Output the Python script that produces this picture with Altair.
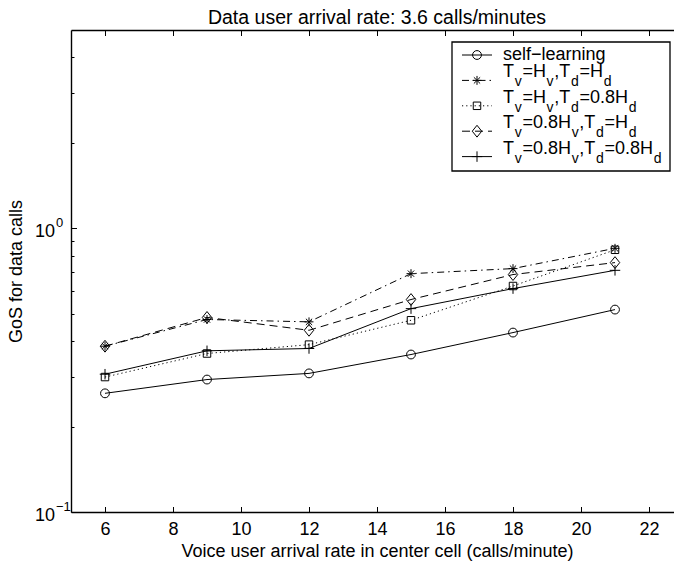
import altair as alt
import pandas as pd

# ---------------------------------------------------------------- data
# Voice user arrival rate in the center cell (calls/minute)
voice_rate = [6, 9, 12, 15, 18, 21]

# Grade of service for data calls under each threshold policy
gos_self_learning = [0.262, 0.293, 0.308, 0.359, 0.429, 0.517]
gos_hv_hd = [0.384, 0.477, 0.468, 0.692, 0.721, 0.850]
gos_hv_08hd = [0.299, 0.362, 0.389, 0.474, 0.626, 0.840]
gos_08hv_hd = [0.384, 0.485, 0.437, 0.561, 0.687, 0.757]
gos_08hv_08hd = [0.306, 0.370, 0.377, 0.521, 0.613, 0.711]

series_keys = ["self", "hv_hd", "hv_08hd", "08hv_hd", "08hv_08hd"]
series_values = [gos_self_learning, gos_hv_hd, gos_hv_08hd, gos_08hv_hd, gos_08hv_08hd]
# "_x" marks a one-character subscript
legend_labels = [
    "self\u2212learning",
    "T_v=H_v,T_d=H_d",
    "T_v=H_v,T_d=0.8H_d",
    "T_v=0.8H_v,T_d=H_d",
    "T_v=0.8H_v,T_d=0.8H_d",
]

x_ticks = [6, 8, 10, 12, 14, 16, 18, 20, 22]
y_major = [0.1, 1.0]
y_minor = [0.2, 0.3, 0.4, 0.5, 0.6, 0.7, 0.8, 0.9, 2, 3, 4]
y_tick_base = ["10", "10"]
y_tick_exp = ["\u22121", "0"]

title_text = "Data user arrival rate: 3.6 calls/minutes"
x_title = "Voice user arrival rate in center cell (calls/minute)"
y_title = "GoS for data calls"

# ---------------------------------------------------------------- layout
FONT = "Liberation Sans"
W, H = 603, 482
PAD = {"left": 71, "top": 30, "right": 0, "bottom": 51}
X_MIN, X_MAX = 5, 5 + W / 34.0

styles = {
    "self": dict(dash=None, shape="circle", size=78),
    "hv_hd": dict(dash=[7, 4, 1.5, 4],
                  shape="M0,-1L0,1M-1,0L1,0M-0.7,-0.7L0.7,0.7M-0.7,0.7L0.7,-0.7",
                  size=80),
    "hv_08hd": dict(dash=[1.2, 3], shape="square", size=56),
    "08hv_hd": dict(dash=[8, 5], shape="M0,-1L0.8,0L0,1L-0.8,0Z", size=140),
    "08hv_08hd": dict(dash=None, shape="M0,-1L0,1M-1,0L1,0", size=110),
}

# legend geometry (chart coordinates)
LEG_BOX = (381, 599, 12, 141)
LEG_LINE = (391, 421)
LEG_MARK_X = 406
LEG_TEXT_X = 432
LEG_ROW0, LEG_ROW_STEP = 25.0, 25.4
MAIN_SIZE, SUB_SIZE = 18, 14
RUN_GAP = 0.7

# Arial / Liberation Sans advance widths (1/1000 em)
ADV = {"T": 611, "v": 500, "=": 584, "H": 722, ",": 278, "d": 556,
       "0": 556, ".": 278, "8": 556}

rows = []
for key, vals in zip(series_keys, series_values):
    for xv, yv in zip(voice_rate, vals):
        rows.append({"series": key, "rate": xv, "gos": yv})
data = pd.DataFrame(rows)

x_scale = alt.Scale(domain=[X_MIN, X_MAX], nice=False, zero=False)
y_scale = alt.Scale(type="log", domain=[0.1, 5], nice=False)


def enc(xaxis=None, yaxis=None):
    return dict(
        x=alt.X("rate:Q", scale=x_scale, axis=xaxis),
        y=alt.Y("gos:Q", scale=y_scale, axis=yaxis),
    )


base_axis = dict(grid=False, domainColor="black", tickColor="black",
                 labelColor="black", titleColor="black", labelFont=FONT,
                 titleFont=FONT, labelFontSize=18, titleFontSize=18,
                 titleFontWeight="normal", domainWidth=1.4, tickWidth=1)

layers = []

# axes: labelled bottom/left axes plus tick-only axes pointing into the plot
ghost = alt.Chart(data).mark_point(opacity=0)
layers.append(ghost.encode(**enc(xaxis=alt.Axis(
    orient="bottom", values=x_ticks, ticks=False, tickSize=0, labelPadding=8,
    domain=True, title=x_title, titleX=W / 2 + 4.5, titleY=44,
    titleBaseline="alphabetic", titleAlign="center", **base_axis))))
layers.append(ghost.encode(**enc(xaxis=alt.Axis(
    orient="top", offset=-H, values=x_ticks, labels=False, domain=False,
    tickSize=5.5, title=None, **base_axis))))
layers.append(ghost.encode(**enc(xaxis=alt.Axis(
    orient="bottom", offset=-H, values=x_ticks, labels=False, domain=True,
    tickSize=5.5, title=None, **base_axis))))
layers.append(ghost.encode(**enc(yaxis=alt.Axis(
    orient="left", labels=False, ticks=False, tickSize=0, domain=True,
    title=y_title, titleX=-50, titleY=H / 2, titleAngle=270,
    titleBaseline="alphabetic", titleAlign="center", **base_axis))))
layers.append(ghost.encode(**enc(yaxis=alt.Axis(
    orient="right", offset=-W, values=y_major, labels=False, domain=False,
    tickSize=5.5, title=None, **base_axis))))
layers.append(ghost.encode(**enc(yaxis=alt.Axis(
    orient="right", offset=-W, values=y_minor, labels=False, domain=False,
    tickSize=3, title=None, **base_axis))))

# y tick labels as 10 with a raised exponent
ytick = pd.DataFrame({"v": y_major, "base": y_tick_base, "exp": y_tick_exp})
layers.append(alt.Chart(ytick).mark_text(
    align="right", baseline="alphabetic", font=FONT, fontSize=18,
    color="black", dy=8.5).encode(
    y=alt.Y("v:Q", scale=y_scale, axis=None), x=alt.value(-16), text="base:N"))
layers.append(alt.Chart(ytick).mark_text(
    align="left", baseline="alphabetic", font=FONT, fontSize=13,
    color="black", dy=-1).encode(
    y=alt.Y("v:Q", scale=y_scale, axis=None), x=alt.value(-15), text="exp:N"))

# series lines and markers
for key in series_keys:
    st = styles[key]
    line_kw = dict(color="black", strokeWidth=1)
    if st["dash"]:
        line_kw["strokeDash"] = st["dash"]
    sub = alt.Chart(data).transform_filter(alt.datum.series == key)
    layers.append(sub.mark_line(**line_kw).encode(**enc()))
    layers.append(sub.mark_point(shape=st["shape"], size=st["size"],
                                 filled=False, color="black", strokeWidth=1,
                                 opacity=1).encode(**enc()))

# legend box
layers.append(alt.Chart(pd.DataFrame({"box": [0]})).mark_rect(
    fill="white", stroke="black", strokeWidth=1.3).encode(
    x=alt.value(LEG_BOX[0]), x2=alt.value(LEG_BOX[1]),
    y=alt.value(LEG_BOX[2]), y2=alt.value(LEG_BOX[3])))

# legend samples
for i, key in enumerate(series_keys):
    st = styles[key]
    row = pd.DataFrame({"ypix": [LEG_ROW0 + i * LEG_ROW_STEP]})
    line_kw = dict(color="black", strokeWidth=1)
    if st["dash"]:
        line_kw["strokeDash"] = st["dash"]
    layers.append(alt.Chart(row).mark_rule(**line_kw).encode(
        x=alt.value(LEG_LINE[0]), x2=alt.value(LEG_LINE[1]),
        y=alt.Y("ypix:Q", scale=None)))
    layers.append(alt.Chart(row).mark_point(
        shape=st["shape"], size=st["size"], filled=False, color="black",
        strokeWidth=1, opacity=1).encode(
        x=alt.value(LEG_MARK_X), y=alt.Y("ypix:Q", scale=None)))

# legend labels, split into normal and subscript runs
text_rows = []
for i, label in enumerate(legend_labels):
    yc = LEG_ROW0 + i * LEG_ROW_STEP
    if "_" not in label:
        text_rows.append({"t": label, "px": LEG_TEXT_X, "py": yc + 5,
                          "fs": MAIN_SIZE})
        continue
    runs = []
    j = 0
    while j < len(label):
        if label[j] == "_":
            runs.append((label[j + 1], True))
            j += 2
        else:
            if runs and not runs[-1][1]:
                runs[-1] = (runs[-1][0] + label[j], False)
            else:
                runs.append((label[j], False))
            j += 1
    xpos = LEG_TEXT_X
    for txt, is_sub in runs:
        fs = SUB_SIZE if is_sub else MAIN_SIZE
        text_rows.append({"t": txt, "px": xpos,
                          "py": yc + (6 if is_sub else -3), "fs": fs})
        xpos += sum(ADV[c] for c in txt) * fs / 1000.0 + RUN_GAP
legend_text = pd.DataFrame(text_rows)
layers.append(alt.Chart(legend_text).mark_text(
    align="left", baseline="alphabetic", font=FONT, color="black").encode(
    x=alt.X("px:Q", scale=None), y=alt.Y("py:Q", scale=None),
    size=alt.Size("fs:Q", scale=None, legend=None), text="t:N"))

chart = alt.layer(*layers).resolve_axis(
    x="independent", y="independent"
).properties(
    width=W, height=H,
    padding=PAD,
    autosize=alt.AutoSizeParams(type="none"),
    title=alt.Title(title_text, font=FONT, fontSize=19.5, fontWeight="normal",
                    color="black", anchor="middle", frame="group",
                    baseline="alphabetic", offset=7, dx=4.5, dy=21),
).configure_view(stroke=None).configure(background="white")

chart.save("out.html", embed_options={"renderer": "svg", "actions": False})
